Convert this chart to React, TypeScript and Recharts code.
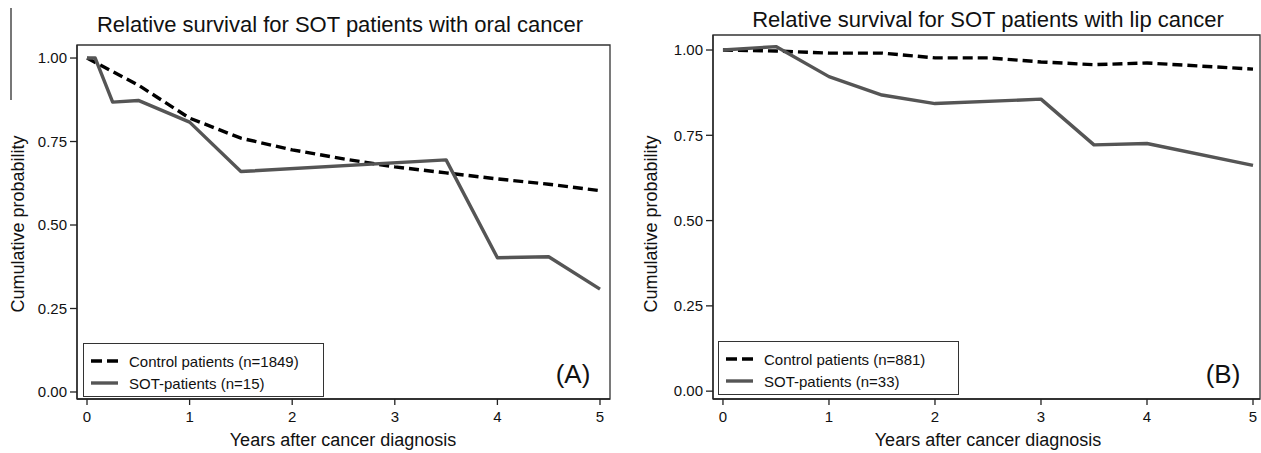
import { Legend, Line, LineChart, ReferenceArea, XAxis, YAxis } from "recharts";

const FONT = '"Liberation Sans", Arial, Helvetica, sans-serif';

// (A) oral cancer
const oralControlYears = [0, 0.5, 1, 1.5, 2, 2.5, 3, 3.5, 4, 4.5, 5];
const oralControlSurv = [1.0, 0.919, 0.82, 0.76, 0.725, 0.698, 0.674, 0.656, 0.638, 0.622, 0.603];
const oralSotYears = [0, 0.08, 0.25, 0.5, 1, 1.5, 3.5, 4, 4.5, 5];
const oralSotSurv = [1.0, 1.0, 0.868, 0.873, 0.808, 0.66, 0.695, 0.402, 0.405, 0.308];
const oralNames = ["Control patients (n=1849)", "SOT-patients (n=15)"];

// (B) lip cancer
const lipControlYears = [0, 0.5, 1, 1.5, 2, 2.5, 3, 3.5, 4, 4.5, 5];
const lipControlSurv = [1.0, 0.997, 0.991, 0.991, 0.977, 0.977, 0.965, 0.957, 0.962, 0.953, 0.944];
const lipSotYears = [0, 0.5, 1, 1.5, 2, 3, 3.5, 4, 5];
const lipSotSurv = [1.0, 1.01, 0.922, 0.868, 0.843, 0.856, 0.722, 0.726, 0.662];
const lipNames = ["Control patients (n=881)", "SOT-patients (n=33)"];

const yearTicks = [0, 1, 2, 3, 4, 5];
const probTicks = [0, 0.25, 0.5, 0.75, 1];

const CONTROL = { stroke: "#000", dash: "10 5" };
const SOT = { stroke: "#555", dash: undefined as string | undefined };

const pts = (xs: number[], ys: number[]) => xs.map((x, i) => ({ x, y: ys[i] }));

function legendBox(names: string[]) {
  const styles = [CONTROL, SOT];
  return () => (
    <div
      style={{
        position: "relative",
        width: 241,
        height: 54,
        border: "1.3px solid #333",
        boxSizing: "border-box",
        background: "#fff",
        fontFamily: FONT,
        fontSize: 15,
        color: "#111",
      }}
    >
      {names.map((n, i) => (
        <div
          key={n}
          style={{ position: "absolute", left: 7, top: 7 + i * 22, height: 20, display: "flex", alignItems: "center" }}
        >
          <svg width={28} height={6}>
            <line
              x1={0}
              y1={3}
              x2={27}
              y2={3}
              stroke={styles[i].stroke}
              strokeWidth={3.4}
              strokeDasharray={i === 0 ? "11 5" : undefined}
            />
          </svg>
          <span style={{ marginLeft: 10, whiteSpace: "nowrap" }}>{n}</span>
        </div>
      ))}
    </div>
  );
}

interface PanelProps {
  left: number;
  width: number;
  margin: { top: number; right: number; bottom: number; left: number };
  xDomain: [number, number];
  yDomain: [number, number];
  control: { x: number; y: number }[];
  sot: { x: number; y: number }[];
  names: string[];
  legendAt: { left: number; top: number };
}

function Panel({ left, width, margin, xDomain, yDomain, control, sot, names, legendAt }: PanelProps) {
  const tick = { fontSize: 15, fill: "#111", fontFamily: FONT };
  return (
    <div style={{ position: "absolute", left, top: 0 }}>
      <LineChart width={width} height={453} margin={margin}>
        <XAxis
          dataKey="x"
          type="number"
          domain={xDomain}
          allowDataOverflow
          ticks={yearTicks}
          tick={tick}
          tickSize={6}
          tickMargin={6}
          height={30}
          stroke="#222"
          strokeWidth={1.3}
        />
        <YAxis
          type="number"
          domain={yDomain}
          allowDataOverflow
          ticks={probTicks}
          tickFormatter={(v: number) => v.toFixed(2)}
          tick={tick}
          tickSize={7}
          tickMargin={3}
          width={60}
          stroke="#222"
          strokeWidth={1.3}
        />
        <ReferenceArea
          x1={xDomain[0]}
          x2={xDomain[1]}
          y1={yDomain[0]}
          y2={yDomain[1]}
          fill="none"
          stroke="#333"
          strokeWidth={1.3}
          ifOverflow="visible"
        />
        <Line
          data={control}
          dataKey="y"
          name={names[0]}
          type="linear"
          stroke={CONTROL.stroke}
          strokeWidth={3.4}
          strokeDasharray={CONTROL.dash}
          dot={false}
          isAnimationActive={false}
        />
        <Line
          data={sot}
          dataKey="y"
          name={names[1]}
          type="linear"
          stroke={SOT.stroke}
          strokeWidth={3.4}
          strokeLinejoin="round"
          dot={false}
          isAnimationActive={false}
        />
        <Legend
          layout="horizontal"
          verticalAlign="middle"
          align="center"
          content={legendBox(names)}
          wrapperStyle={{ left: legendAt.left, top: legendAt.top, width: 241 }}
        />
      </LineChart>
    </div>
  );
}

const textBase = {
  position: "absolute" as const,
  fontFamily: FONT,
  color: "#111",
  lineHeight: 1,
  whiteSpace: "nowrap" as const,
  transform: "translate(-50%, -50%)",
};

export default function App() {
  return (
    <div style={{ position: "absolute", left: 0, top: 0, width: 1261, height: 453, background: "#fff", overflow: "hidden" }}>
      <div style={{ position: "absolute", left: 10, top: 8, width: 1.5, height: 92, background: "#777" }} />
      <Panel
        left={0}
        width={630}
        margin={{ top: 45, right: 20, bottom: 24, left: 17 }}
        xDomain={[-0.0975, 5.0975]}
        yDomain={[-0.021, 1.039]}
        control={pts(oralControlYears, oralControlSurv)}
        sot={pts(oralSotYears, oralSotSurv)}
        names={oralNames}
        legendAt={{ left: 83, top: 343 }}
      />
      <Panel
        left={630}
        width={631}
        margin={{ top: 35, right: 1, bottom: 24, left: 23 }}
        xDomain={[-0.094, 5.066]}
        yDomain={[-0.023, 1.044]}
        control={pts(lipControlYears, lipControlSurv)}
        sot={pts(lipSotYears, lipSotSurv)}
        names={lipNames}
        legendAt={{ left: 88, top: 341 }}
      />
      <div style={{ ...textBase, left: 340, top: 25, fontSize: 22 }}>
        Relative survival for SOT patients with oral cancer
      </div>
      <div style={{ ...textBase, left: 988, top: 20, fontSize: 22 }}>
        Relative survival for SOT patients with lip cancer
      </div>
      <div style={{ ...textBase, left: 18, top: 224, fontSize: 18, transform: "translate(-50%, -50%) rotate(-90deg)" }}>
        Cumulative probability
      </div>
      <div style={{ ...textBase, left: 651, top: 224, fontSize: 18, transform: "translate(-50%, -50%) rotate(-90deg)" }}>
        Cumulative probability
      </div>
      <div style={{ ...textBase, left: 343, top: 440, fontSize: 18 }}>Years after cancer diagnosis</div>
      <div style={{ ...textBase, left: 988, top: 440, fontSize: 18 }}>Years after cancer diagnosis</div>
      <div style={{ ...textBase, left: 573, top: 374, fontSize: 26 }}>(A)</div>
      <div style={{ ...textBase, left: 1223, top: 374, fontSize: 26 }}>(B)</div>
    </div>
  );
}
